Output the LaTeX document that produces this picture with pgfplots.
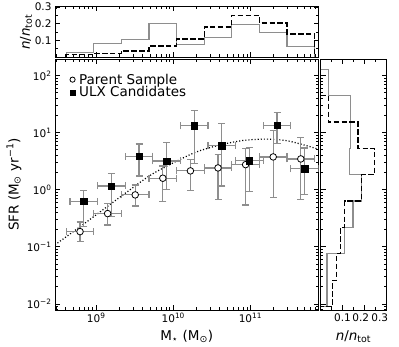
\documentclass[border=0pt]{standalone}
\usepackage{fontspec}
\setmainfont{DejaVu Sans}
\usepackage{pgfplots}
\pgfplotsset{compat=1.18}
\definecolor{hist-gray}{HTML}{8E8E8E}
\definecolor{err-gray}{HTML}{8E8E8E}

\pgfplotsset{
  panel/.style={
    scale only axis,
    anchor=south west,
    axis line style={line width=0.9pt},
    tick align=inside,
    major tick length=5pt,
    minor tick length=2.8pt,
    every tick/.append style={black, line width=0.6pt},
    tick label style={font=\fontsize{10.5}{12}\selectfont},
    label style={font=\fontsize{13.5}{15}\selectfont},
  },
}
\def\massminor{3e8,4e8,5e8,6e8,7e8,8e8,9e8,2e9,3e9,4e9,5e9,6e9,7e9,8e9,9e9,
  2e10,3e10,4e10,5e10,6e10,7e10,8e10,9e10,2e11,3e11,4e11,5e11,6e11,7e11}
\def\sfrminor{8e-3,9e-3,0.02,0.03,0.04,0.05,0.06,0.07,0.08,0.09,
  0.2,0.3,0.4,0.5,0.6,0.7,0.8,0.9,2,3,4,5,6,7,8,9,20,30,40,50,60,70,80,90}

\begin{document}
\begin{tikzpicture}
\useasboundingbox (0,0) rectangle (399pt,346pt);

% main panel
\begin{axis}[panel,
  at={(55pt,36pt)}, width=263.5pt, height=251pt,
  xmode=log, ymode=log,
  xmin=2.92e8, xmax=7.65e11, ymin=7.8e-3, ymax=194,
  xtick={1e9,1e10,1e11}, minor xtick/.expanded={\massminor},
  ytick={1e-2,1e-1,1,10,100}, minor ytick/.expanded={\sfrminor},
  xticklabels={10\textsuperscript{9},10\textsuperscript{10},10\textsuperscript{11}},
  yticklabels={10\textsuperscript{−2},10\textsuperscript{−1},10\textsuperscript{0},10\textsuperscript{1},10\textsuperscript{2}},
  xlabel={M\textsubscript{⋆} (M\textsubscript{⊙})},
  ylabel={SFR (M\textsubscript{⊙} yr\textsuperscript{−1})},
  xlabel style={at={(axis description cs:0.5,-0.106)}, anchor=center},
  ylabel style={at={(axis description cs:-0.156,0.5)}, anchor=center},
  legend style={at={(axis description cs:0.056,0.946)}, anchor=north west, draw=none, fill=none,
    inner xsep=0pt, inner ysep=0pt, nodes={inner sep=1pt},
    /tikz/every odd column/.style={column sep=3pt},
    font=\fontsize{13.5}{15}\selectfont, row sep=-1pt},
  legend cell align=left,
  legend image code/.code={\draw[mark repeat=2, mark phase=2, #1, mark size=2.6pt]
    plot coordinates {(0cm,0cm) (0.15cm,0cm) (0.3cm,0cm)};},
]
\addplot[forget plot, black, line width=1.2pt, dash pattern=on 1.1pt off 2pt, smooth] coordinates {
  (2.917e8,0.1079) (6.310e8,0.2291) (1.259e9,0.4571) (2.512e9,0.912) (5.012e9,1.778)
  (1e10,2.951) (1.995e10,4.571) (3.981e10,6.026) (7.943e10,7.244) (1.585e11,7.674)
  (3.162e11,7.079) (7.656e11,5.105)};

\addplot[only marks, mark=*, mark size=3.3pt, mark options={fill=white, draw=black, line width=0.8pt},
  error bars/.cd, x dir=both, x explicit relative, y dir=both, y explicit,
  error bar style={err-gray, line width=1.2pt},
  error mark options={rotate=90, err-gray, line width=1.2pt, mark size=3.5pt}]
  table[x=x, y=y, x error plus=xp, x error minus=xm, y error plus=yp, y error minus=ym] {
x        y      xp    xm     yp     ym
6.166e8  0.184  0.51  0.338  0.088  0.061
1.406e9  0.381  0.51  0.338  0.198  0.140
3.206e9  0.809  0.51  0.338  0.40   0.29
7.311e9  1.585  0.51  0.338  1.015  0.967
1.667e10 2.13   0.51  0.338  1.19   1.17
3.802e10 2.40   0.51  0.338  1.70   1.72
8.670e10 2.74   0.51  0.338  2.46   2.20
1.977e11 3.74   0.51  0.338  7.26   3.00
4.508e11 3.45   0.51  0.338  4.85   2.77
};
\addlegendentry{Parent Sample}

\addplot[only marks, mark=square*, mark size=3.2pt, mark options={fill=black, draw=black},
  error bars/.cd, x dir=both, x explicit relative, y dir=both, y explicit,
  error bar style={err-gray, line width=1.2pt},
  error mark options={rotate=90, err-gray, line width=1.2pt, mark size=3.5pt}]
  table[x=x, y=y, x error plus=xp, x error minus=xm, y error plus=yp, y error minus=ym] {
x        y      xp    xm     yp     ym
6.918e8  0.62   0.51  0.338  0.34   0.397
1.578e9  1.16   0.51  0.338  0.78   0.823
3.597e9  3.85   0.51  0.338  2.45   2.11
8.204e9  3.18   0.51  0.338  3.48   2.18
1.871e10 13.1   0.51  0.338  11.1   10.2
4.266e10 5.9    0.51  0.338  8.7    4.74
9.727e10 3.22   0.51  0.338  2.22   2.30
2.218e11 13.4   0.51  0.338  8.9    6.9
5.058e11 2.31   0.51  0.338  3.07   1.50
};
\addlegendentry{ULX Candidates}
\end{axis}

% top histogram (mass)
\begin{axis}[panel,
  at={(55pt,289pt)}, width=263.5pt, height=51pt,
  xmode=log, xmin=2.92e8, xmax=7.65e11,
  xtick={1e9,1e10,1e11}, minor xtick/.expanded={\massminor},
  xticklabels={},
  ymin=0, ymax=0.305,
  ytick={0.1,0.2,0.3}, yticklabels={0.1,0.2,0.3},
  minor ytick={0.05,0.15,0.25},
  ylabel={\textit{n}/\textit{n}\textsubscript{tot}},
  ylabel style={at={(axis description cs:-0.110,0.49)}, anchor=center},
]
\addplot[hist-gray, line width=1.3pt] coordinates {
  (4.083e8,0) (4.083e8,0.025) (9.311e8,0.025) (9.311e8,0.082) (2.123e9,0.082)
  (2.123e9,0.106) (4.842e9,0.106) (4.842e9,0.200) (1.104e10,0.200) (1.104e10,0.074)
  (2.518e10,0.074) (2.518e10,0.118) (5.741e10,0.118) (5.741e10,0.194) (1.309e11,0.194)
  (1.309e11,0.148) (2.985e11,0.148) (2.985e11,0.064) (6.808e11,0.064) (6.808e11,0)};
\addplot[black, line width=1.3pt, dash pattern=on 5.5pt off 2.4pt] coordinates {
  (4.083e8,0) (4.083e8,0.014) (9.311e8,0.014) (9.311e8,0.022) (2.123e9,0.022)
  (2.123e9,0.036) (4.842e9,0.036) (4.842e9,0.065) (1.104e10,0.065) (1.104e10,0.108)
  (2.518e10,0.108) (2.518e10,0.180) (5.741e10,0.180) (5.741e10,0.250) (1.309e11,0.250)
  (1.309e11,0.204) (2.985e11,0.204) (2.985e11,0.138) (6.808e11,0.138) (6.808e11,0)};
\end{axis}

% right histogram (SFR)
\begin{axis}[panel,
  at={(320.5pt,36pt)}, width=66pt, height=251pt,
  ymode=log, ymin=7.8e-3, ymax=194,
  ytick={1e-2,1e-1,1,10,100}, minor ytick/.expanded={\sfrminor},
  yticklabels={},
  xmin=0, xmax=0.3,
  xtick={0.1,0.2,0.3},
  xticklabels={0.1,\makebox[0pt]{\kern-7.4pt 0.2},\makebox[0pt]{\kern-13.4pt 0.3}},
  minor xtick={0.05,0.15,0.25},
  xlabel={\textit{n}/\textit{n}\textsubscript{tot}},
  xlabel style={at={(axis description cs:0.5,-0.106)}, anchor=center},
]
\addplot[hist-gray, line width=1.3pt] coordinates {
  (0,128.2) (0.035,128.2) (0.035,44.26) (0.135,44.26) (0.135,15.31) (0.135,15.31)
  (0.135,5.284) (0.133,5.284) (0.133,1.824) (0.186,1.824) (0.186,0.6295) (0.148,0.6295)
  (0.148,0.2178) (0.110,0.2178) (0.110,0.07516) (0.030,0.07516) (0.030,0.02594)
  (0.030,0.02594) (0.030,0.008974) (0,0.008974)};
\addplot[black, line width=1.3pt, dash pattern=on 5.5pt off 2.4pt] coordinates {
  (0,44.26) (0.035,44.26) (0.035,15.31) (0.171,15.31) (0.171,5.284) (0.247,5.284)
  (0.247,1.824) (0.186,1.824) (0.186,0.6295) (0.110,0.6295) (0.110,0.2178)
  (0.091,0.2178) (0.091,0.07516) (0.073,0.07516) (0.073,0.02594) (0.055,0.02594)
  (0.055,0.008974) (0,0.008974)};
\end{axis}
\end{tikzpicture}
\end{document}
